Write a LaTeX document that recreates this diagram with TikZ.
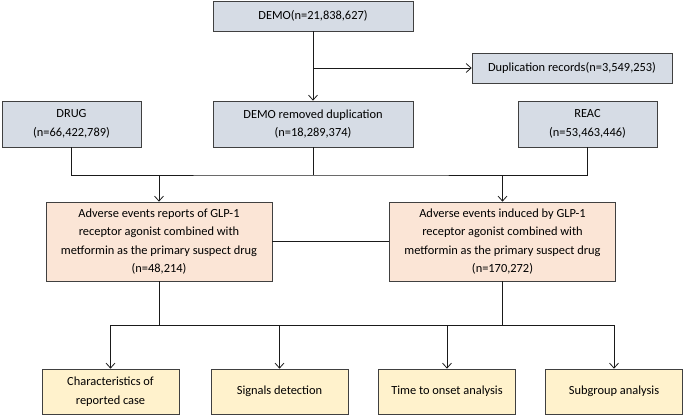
\documentclass[tikz,border=0pt]{standalone}
\usepackage{fontspec}
\setmainfont{Carlito}
\usetikzlibrary{
  positioning,
  arrows.meta,
  calc,
}
\definecolor{border}{HTML}{404040}
\definecolor{fillData}{HTML}{D6DCE5}
\definecolor{fillCase}{HTML}{FBE5D6}
\definecolor{fillTask}{HTML}{FFF2CC}
\definecolor{lineCol}{HTML}{1A1A1A}
\tikzset{
  databox/.style={
    rectangle, draw=border, fill=fillData, align=center,
    font=\fontsize{12.4}{18.5}\selectfont, inner sep=2pt, line width=0.7pt,
    minimum height=30pt,
  },
  casebox/.style={
    databox, fill=fillCase, minimum width=226pt, minimum height=79pt,
  },
  taskbox/.style={
    databox, fill=fillTask, minimum width=137pt, minimum height=45pt,
  },
  link/.style={lineCol, line width=0.8pt},
  arrow/.style={link, -{Straight Barb[length=5pt, width=9pt]}},
}

\begin{document}
\begin{tikzpicture}[x=1pt, y=-1pt]

  \useasboundingbox (0, 0) rectangle (685, 416);

  % Source tables
  \node[databox, minimum width=200pt] (demo) at (313, 16) {DEMO(n=21,838,627)};
  \node[databox, minimum width=200pt] (dup) at (572, 68) {Duplication records(n=3,549,253)};
  \node[databox, minimum width=139pt, minimum height=46pt] (drug) at (71.5, 124) {DRUG\\(n=66,422,789)};
  \node[databox, minimum width=200pt, minimum height=46pt] (dedup) at (313, 124) {DEMO removed duplication\\(n=18,289,374)};
  \node[databox, minimum width=139pt, minimum height=46pt] (reac) at (587.5, 124) {REAC\\(n=53,463,446)};

  \coordinate (split) at (demo.south |- dup.west);
  \draw[arrow] (demo.south) -- (dedup.north);
  \draw[arrow] (split) -- (dup.west);

  % Adverse event sets
  \node[casebox] (aeone) at (159, 241.5) {Adverse events reports of GLP-1\\receptor agonist combined with\\metformin as the primary suspect drug\\(n=48,214)};
  \node[casebox] (aetwo) at (502.5, 241.5) {Adverse events induced by GLP-1\\receptor agonist combined with\\metformin as the primary suspect drug\\(n=170,272)};

  \coordinate (merge) at (313, 175);
  \draw[link] (drug.south) |- (merge) -| (reac.south);
  \draw[link] (dedup.south) -- (merge);
  \draw[arrow] (aeone.north |- merge) -- (aeone.north);
  \draw[arrow] (aetwo.north |- merge) -- (aetwo.north);
  \draw[link] (aeone.east) -- (aetwo.west);

  % Analyses
  \node[taskbox] (chars) at (110.5, 391.5) {Characteristics of\\reported case};
  \node[taskbox] (signal) at (279.5, 391.5) {Signals detection};
  \node[taskbox] (onset) at (447, 391.5) {Time to onset analysis};
  \node[taskbox] (subgrp) at (614, 391.5) {Subgroup analysis};

  \coordinate (fan) at (331, 325);
  \draw[link] (aeone.south) -- (aeone.south |- fan);
  \draw[link] (aetwo.south) -- (aetwo.south |- fan);
  \draw[link] (chars.north |- fan) -- (subgrp.north |- fan);
  \draw[arrow] (chars.north |- fan) -- (chars.north);
  \draw[arrow] (signal.north |- fan) -- (signal.north);
  \draw[arrow] (onset.north |- fan) -- (onset.north);
  \draw[arrow] (subgrp.north |- fan) -- (subgrp.north);

\end{tikzpicture}
\end{document}
